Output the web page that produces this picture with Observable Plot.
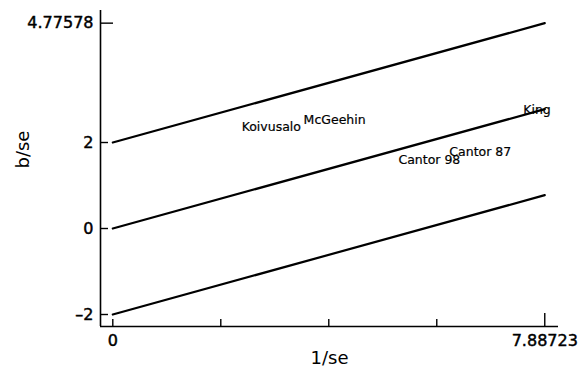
<!DOCTYPE html>
<html>
<head>
<meta charset="utf-8">
<script src="https://cdn.jsdelivr.net/npm/d3@7"></script>
<script src="https://cdn.jsdelivr.net/npm/@observablehq/plot@0.6"></script>
<style>
  html, body { margin: 0; padding: 0; background: #fff; }
  svg g[aria-label="y-axis tick label"] text,
  svg g[aria-label="x-axis tick label"] text { stroke: black; stroke-width: 0.45px; }
</style>
</head>
<body>
<div id="chart"></div>
<script>
// Galbraith (radial) plot: standardised effect b/se against precision 1/se
const studies   = ["Koivusalo", "McGeehin", "Cantor 98", "Cantor 87", "King"];
const precision = [2.894, 4.05, 5.78, 6.71, 7.745];   // 1/se
const zScores   = [2.367, 2.53, 1.60, 1.786, 2.763];  // b/se

// Pooled-estimate line and the ±2 bands around it
const bandOffsets = [2, 0, -2];
const pooledSlope = 0.35193;
const maxPrecision = 7.88723;

// Axis ticks
const xTickLabels = [0, 7.88723];
const xShortTicks = [0, 1.97181, 3.94362, 5.91542];
const xLongTicks  = [7.88723];
const yTickLabels = [-2, 0, 2, 4.77578];
const yShortTicks = [-2, 0, 2];
const yLongTicks  = [4.77578];

const xDomain = [-0.2246, 8.138];
const yDomain = [-2.279, 5.07];

const points = studies.map((name, i) => ({name, x: precision[i], y: zScores[i]}));
const bandLines = bandOffsets.flatMap(b => [
  {band: b, x: 0, y: b},
  {band: b, x: maxPrecision, y: b + pooledSlope * maxPrecision}
]);

const fmt = d => d < 0 ? "\u2013" + Math.abs(d) : String(d);

const chart = Plot.plot({
  width: 584,
  height: 374,
  marginLeft: 100,
  marginRight: 26,
  marginTop: 10,
  marginBottom: 48,
  x: {domain: xDomain, label: null},
  y: {domain: yDomain, label: null},
  style: {fontFamily: "DejaVu Sans", background: "white", color: "black", overflow: "visible"},
  marks: [
    // axis lines
    Plot.ruleX([xDomain[0]], {stroke: "black", strokeWidth: 1.6}),
    Plot.ruleY([yDomain[0]], {stroke: "black", strokeWidth: 1.6}),
    // y ticks (pointing inward) and labels
    Plot.axisY(yShortTicks, {tickSize: -8, tickFormat: () => "", strokeWidth: 1.4, label: null}),
    Plot.axisY(yLongTicks, {tickSize: -13, tickFormat: () => "", strokeWidth: 1.4, label: null}),
    Plot.axisY(yTickLabels, {tickSize: 0, tickPadding: 7, tickFormat: fmt, fontSize: 16, label: null}),
    // x ticks (pointing inward) and labels
    Plot.axisX(xShortTicks, {tickSize: -7, tickFormat: () => "", strokeWidth: 1.4, label: null}),
    Plot.axisX(xLongTicks, {tickSize: -13, tickFormat: () => "", strokeWidth: 1.4, label: null}),
    Plot.axisX(xTickLabels, {tickSize: 0, tickPadding: 8, tickFormat: fmt, fontSize: 16, label: null}),
    // pooled line and ±2 limits
    Plot.line(bandLines, {x: "x", y: "y", z: "band", stroke: "black", strokeWidth: 2.2}),
    // study labels at their (1/se, b/se) positions
    Plot.text(points, {x: "x", y: "y", text: "name", fontSize: 12.5, fill: "black", stroke: "black", strokeWidth: 0.2}),
    // axis titles
    Plot.text(["1/se"], {frameAnchor: "bottom", dy: 37, text: d => d, fontSize: 18, fill: "black"}),
    Plot.text(["b/se"], {frameAnchor: "left", dx: -77, rotate: -90, text: d => d, fontSize: 18, fill: "black"})
  ]
});

document.getElementById("chart").appendChild(chart);
</script>
</body>
</html>
